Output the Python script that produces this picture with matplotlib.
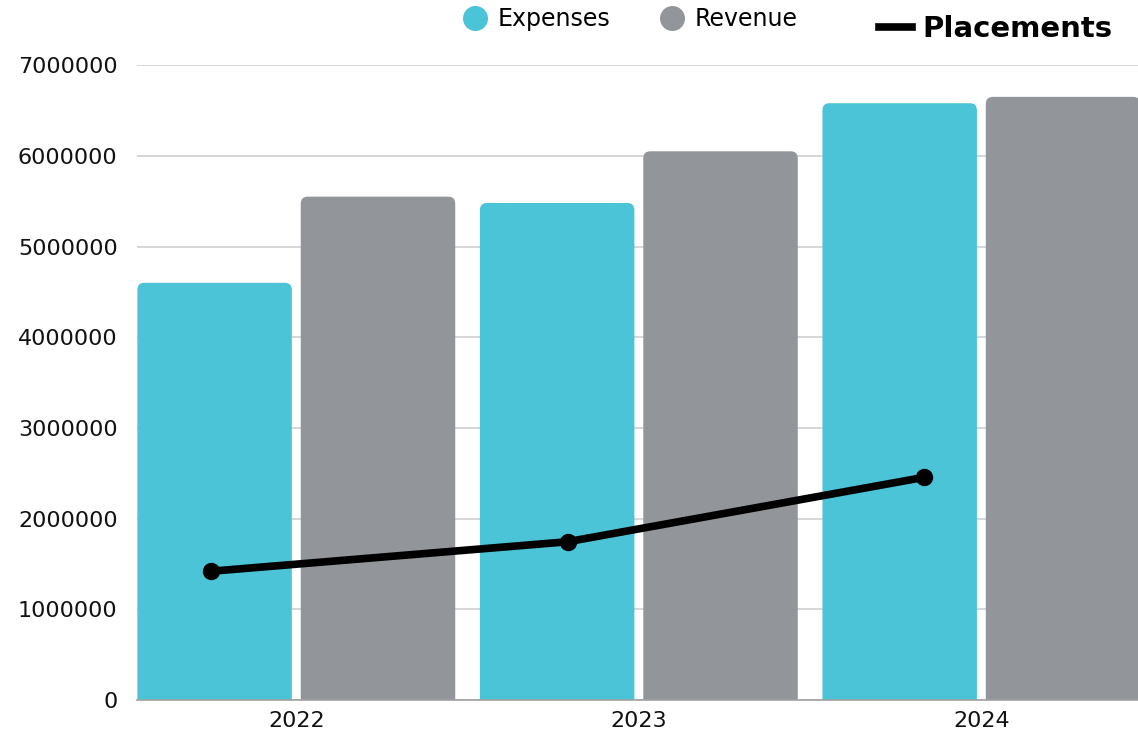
import matplotlib
matplotlib.use('Agg')
import matplotlib.pyplot as plt
from matplotlib.patches import FancyBboxPatch
from matplotlib.lines import Line2D
import numpy as np

years = ['2022', '2023', '2024']
expenses = [4600000, 5480000, 6580000]
revenue = [5550000, 6050000, 6650000]
placements = [1420000, 1745000, 2455000]

CYAN = '#4AC4D6'
GREY = '#929599'

plt.rcParams['font.family'] = ['DejaVu Sans']

fig = plt.figure(figsize=(11.38, 7.40), dpi=100)
ax = fig.add_axes([0.1204, 0.054, 0.903, 0.858])

x = np.arange(len(years))
width = 0.451
offset = 0.2385

b1 = ax.bar(x - offset, expenses, width, color=CYAN, zorder=2)
b2 = ax.bar(x + offset, revenue, width, color=GREY, zorder=2)

ax.set_xlim(-0.465, 2.535)
ax.set_ylim(0, 7000000)
ax.set_yticks(np.arange(0, 7000001, 1000000))
ax.set_yticklabels([str(v) for v in range(0, 7000001, 1000000)])
ax.set_xticks(x)
ax.set_xticklabels(years)
ax.tick_params(axis='both', length=0, labelsize=16, colors='#111111')
ax.tick_params(axis='y', pad=14)
ax.tick_params(axis='x', pad=8)
ax.grid(axis='y', color='#d0d0d0', linewidth=1.2, zorder=0)
ax.set_axisbelow(True)
for s in ['top', 'right', 'left']:
    ax.spines[s].set_visible(False)
ax.spines['bottom'].set_color('#a0a0a0')
ax.spines['bottom'].set_linewidth(1.2)
ax.spines['bottom'].set_zorder(3)

# rounded top corners: swap the plain bars for rounded boxes
fig.canvas.draw()
p0 = ax.transData.transform((0, 0))
p1 = ax.transData.transform((1, 1000000))
px_x = p1[0] - p0[0]
px_y = (p1[1] - p0[1]) / 1000000
r = 7.0 / px_x
aspect = px_x / px_y
for bars in (b1, b2):
    for rect in bars:
        bx, by = rect.get_x(), rect.get_y()
        bw, bh = rect.get_width(), rect.get_height()
        ry = r * aspect
        box = FancyBboxPatch((bx, by - ry), bw, bh + ry,
                             boxstyle=f'round,pad=0,rounding_size={r}',
                             mutation_aspect=aspect,
                             facecolor=rect.get_facecolor(), edgecolor='none',
                             zorder=2)
        rect.set_visible(False)
        ax.add_patch(box)

# placements line sits on its own x scale
ax2 = ax.twiny()
ax2.set_xlim(-0.2076, 2.675)
ax2.set_ylim(0, 7000000)
ax2.plot(np.arange(len(placements)), placements, color='black', linewidth=5.5,
         marker='o', markersize=11.5, solid_capstyle='round', zorder=5)
ax2.axis('off')

h1 = [Line2D([], [], marker='o', linestyle='none', markersize=18,
             markerfacecolor=CYAN, markeredgecolor='none', label='Expenses'),
      Line2D([], [], marker='o', linestyle='none', markersize=18,
             markerfacecolor=GREY, markeredgecolor='none', label='Revenue')]
leg1 = fig.legend(handles=h1, loc='center', bbox_to_anchor=(0.554, 0.974),
                  ncol=2, frameon=False, fontsize=17, handletextpad=0.45,
                  columnspacing=2.1, handlelength=1.0)

h2 = [Line2D([], [], color='black', linewidth=5.5, label='Placements')]
leg2 = fig.legend(handles=h2, loc='center', bbox_to_anchor=(0.8748, 0.961),
                  frameon=False, prop={'weight': 'bold', 'size': 21},
                  handlelength=1.15, handletextpad=0.35)

fig.savefig('out.png', dpi=100)
